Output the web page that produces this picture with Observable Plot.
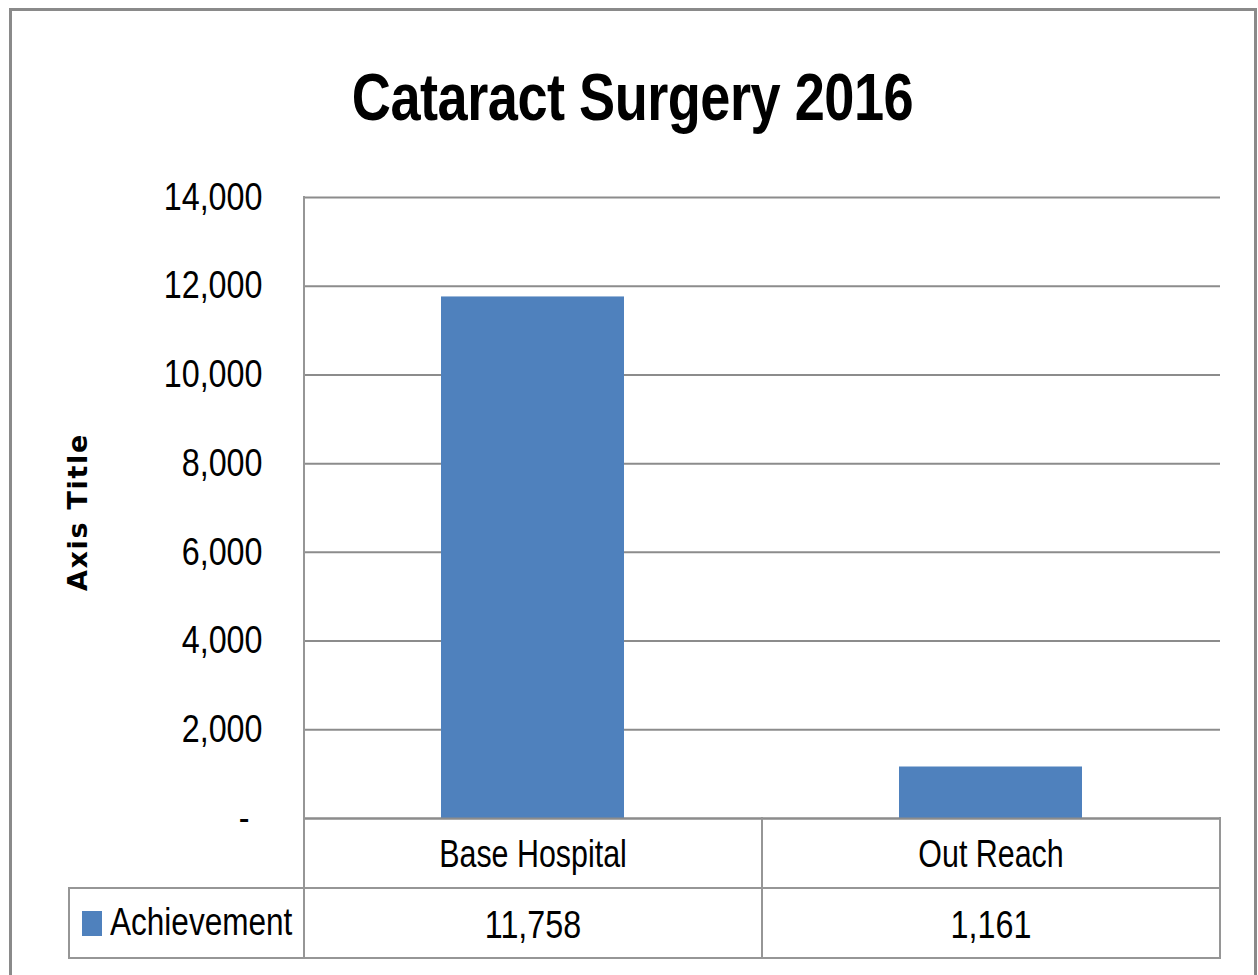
<!DOCTYPE html>
<html>
<head>
<meta charset="utf-8">
<script src="https://cdn.jsdelivr.net/npm/d3@7"></script>
<script src="https://cdn.jsdelivr.net/npm/@observablehq/plot@0.6"></script>
<style>
  html, body { margin: 0; padding: 0; background: #ffffff; }
  #wrap { position: relative; width: 1258px; height: 975px; overflow: hidden; background: #fff;
          font-family: "Liberation Sans", Arial, sans-serif; color: #000; }
  #frame { position: absolute; left: 9px; top: 8px; width: 1242px; height: 1100px; border: 3px solid #8a8a8a; }
  #title { position: absolute; left: 10px; width: 1245px; top: 64px; text-align: center; font-weight: bold;
           font-size: 66px; line-height: 66px; letter-spacing: -0.6px; white-space: nowrap;
           transform: scaleX(0.82); transform-origin: 50% 50%; }
  #chart { position: absolute; left: 0; top: 150px; }
  .ln { position: absolute; background: #969696; }
  #legend { position: absolute; left: 82px; top: 911px; width: 20px; height: 25px; }
  #legendText { position: absolute; left: 110px; top: 897px; font-size: 38px; line-height: 50px; white-space: nowrap;
                transform: scaleX(0.83); transform-origin: 0 50%; }
</style>
</head>
<body>
<div id="wrap">
  <div id="frame"></div>
  <div id="title">Cataract Surgery 2016</div>
  <div id="chart"></div>
  <div id="table"></div>
  <div id="legend"></div>
  <div id="legendText">Achievement</div>
</div>
<script>
// ---- data ----
const categories = ["Base Hospital", "Out Reach"];
const seriesName = "Achievement";
const achievement = [11758, 1161];
const yTicks = [0, 2000, 4000, 6000, 8000, 10000, 12000, 14000];
const yAxisTitle = "Axis Title";
const barColor = "#4F81BD";

const data = categories.map((c, i) => ({category: c, value: achievement[i]}));
const fmt = d3.format(",");

// ---- layout ----
const svgTop = 150;
const W = 1258, H = 815;
const frameTop = 197, frameBottom = 818, frameLeft = 304, frameRight = 1220;
const fontFamily = '"Liberation Sans", Arial, sans-serif';

const chart = Plot.plot({
  width: W,
  height: H,
  marginLeft: frameLeft,
  marginRight: W - frameRight,
  marginTop: frameTop - svgTop,
  marginBottom: H - (frameBottom - svgTop),
  style: {fontFamily, fontSize: "38px", color: "#000", background: "transparent", overflow: "visible"},
  x: {domain: categories, paddingInner: 0.6, paddingOuter: 0.3, label: null},
  y: {domain: [0, 14000], label: null},
  marks: [
    Plot.gridY({ticks: yTicks, stroke: "#8c8c8c", strokeOpacity: 1, strokeWidth: 2}),
    Plot.barY(data, {x: "category", y: "value", fill: barColor}),
    Plot.ruleY([0], {stroke: "#8c8c8c", strokeWidth: 2}),
    Plot.axisY({ticks: yTicks, tickSize: 0, tickPadding: 42, label: null,
      tickFormat: d => d === 0 ? "-\u2009\u2009" : fmt(d)}),
    Plot.axisX({tickSize: 0, tickPadding: 22, label: null}),
    Plot.text(data, {x: "category", text: d => fmt(d.value), frameAnchor: "bottom", lineAnchor: "middle",
      dy: 107, fontSize: 38}),
    Plot.text([yAxisTitle], {frameAnchor: "left", textAnchor: "middle", dx: -226, dy: 4, rotate: -90,
      fontWeight: "bold", fontSize: 27, fontFamily: "DejaVu Sans, Liberation Sans, sans-serif"})
  ]
});
document.getElementById("chart").appendChild(chart);

// condense the text horizontally (the original uses a narrow face) via textLength
d3.select(chart).selectAll("text").each(function() {
  const el = this;
  if (el.textContent === yAxisTitle) { el.style.letterSpacing = "1.7px"; return; }
  const isLabel = /[A-Za-z]/.test(el.textContent);
  const s = isLabel ? 0.8 : 0.85;
  const w = el.getComputedTextLength();
  if (w > 0) {
    el.setAttribute("textLength", (w * s).toFixed(1));
    el.setAttribute("lengthAdjust", "spacingAndGlyphs");
  }
});

// ---- data table below the chart (cell borders aligned with the x band scale) ----
const xs = chart.scale("x");
const step = xs.step, bw = xs.bandwidth;
const bounds = categories.map(c => xs.apply(c) - (step - bw) / 2);
bounds.push(bounds[bounds.length - 1] + step);
const row1Top = frameBottom, row2Top = 888, row2Bottom = 958, tableLeft = 69;
const table = document.getElementById("table");
function line(x, y, w, h) {
  const d = document.createElement("div");
  d.className = "ln";
  d.style.left = x + "px"; d.style.top = y + "px"; d.style.width = w + "px"; d.style.height = h + "px";
  table.appendChild(d);
}
const lw = 2;
line(tableLeft, row2Top - 1, bounds[bounds.length - 1] - tableLeft + 1, lw);
line(tableLeft, row2Bottom - 1, bounds[bounds.length - 1] - tableLeft + 1, lw);
line(tableLeft - 1, row2Top - 1, lw, row2Bottom - row2Top + 2);
line(bounds[0] - 1, frameTop - 1, lw, row2Bottom - frameTop + 2);
bounds.slice(1).forEach(b => line(b - 1, row1Top - 1, lw, row2Bottom - row1Top + 2));
document.getElementById("legend").style.background = barColor;
document.getElementById("legendText").textContent = seriesName;
</script>
</body>
</html>
